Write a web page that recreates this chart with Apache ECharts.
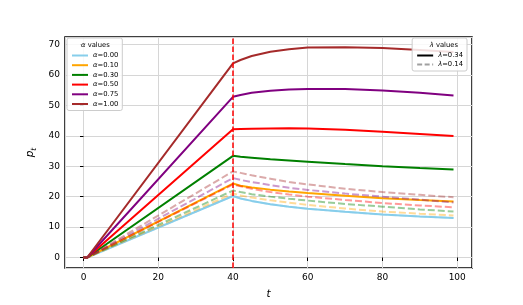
<!DOCTYPE html>
<html><head><meta charset="utf-8">
<script src="https://cdn.jsdelivr.net/npm/echarts@6/dist/echarts.min.js"></script>
<style>html,body{margin:0;padding:0;background:#fff}#c{width:523px;height:305px}</style>
</head><body><div id="c"></div>
<script>
const T = [0, 1, 40, 42, 45, 50, 55, 60, 70, 80, 90, 99];
const alphaLabels = ['0.00', '0.10', '0.30', '0.50', '0.75', '1.00'];
const lambdaLabels = ['0.34', '0.14'];
const colors = ['#87ceeb', '#ffa500', '#008000', '#ff0000', '#800080', '#a52a2a'];
// lambda = 0.34 (solid)
const solid_a000 = [0, 0, 20.2, 19.4, 18.6, 17.5, 16.7, 16.0, 15.0, 14.1, 13.5, 13.0];
const solid_a010 = [0, 0, 24.3, 23.6, 23.0, 22.3, 21.7, 21.2, 20.3, 19.5, 18.9, 18.4];
const solid_a030 = [0, 0, 33.4, 33.1, 32.8, 32.3, 31.9, 31.5, 30.7, 30.0, 29.4, 28.9];
const solid_a050 = [0, 0, 42.1, 42.2, 42.3, 42.4, 42.5, 42.4, 42.0, 41.3, 40.6, 39.9];
const solid_a075 = [0, 0, 52.8, 53.4, 54.1, 54.8, 55.2, 55.4, 55.4, 54.9, 54.1, 53.2];
const solid_a100 = [0, 0, 63.8, 64.9, 66.2, 67.6, 68.4, 69.0, 69.1, 68.8, 68.2, 67.5];
// lambda = 0.14 (dashed)
const dash_a000 = [0, 0, 20.2, 19.4, 18.6, 17.5, 16.7, 16.0, 15.0, 14.1, 13.5, 13.0];
const dash_a010 = [0, 0, 21.0, 20.4, 19.7, 18.8, 18.0, 17.3, 16.1, 15.1, 14.4, 13.8];
const dash_a030 = [0, 0, 22.0, 21.5, 20.8, 20.0, 19.3, 18.7, 17.6, 16.7, 15.8, 15.1];
const dash_a050 = [0, 0, 24.0, 23.4, 22.6, 21.5, 20.7, 20.0, 18.9, 17.9, 17.1, 16.5];
const dash_a075 = [0, 0, 26.1, 25.5, 24.8, 23.8, 22.9, 22.2, 21.0, 20.0, 19.0, 18.1];
const dash_a100 = [0, 0, 28.3, 27.8, 27.0, 25.9, 24.8, 24.0, 22.6, 21.5, 20.6, 19.8];
const cutoffT = 40;
const xMin = -4.95, xMax = 103.95, yMin = -3.45, yMax = 72.45;

const solids = [solid_a000, solid_a010, solid_a030, solid_a050, solid_a075, solid_a100];
const dashes = [dash_a000, dash_a010, dash_a030, dash_a050, dash_a075, dash_a100];
const pair = (arr) => T.map((t, i) => [t, arr[i]]);

const series = [];
solids.forEach((arr, i) => {
  series.push({
    name: 'α=' + alphaLabels[i], type: 'line', data: pair(arr), showSymbol: false, symbol: 'none',
    lineStyle: { color: colors[i], width: 2 }, itemStyle: { color: colors[i] }, z: 2, animation: false
  });
});
dashes.forEach((arr, i) => {
  series.push({
    name: 'd' + i, type: 'line', data: pair(arr), showSymbol: false, symbol: 'none',
    lineStyle: { color: colors[i], width: 2, opacity: 0.4, type: [7, 3] }, itemStyle: { color: colors[i] }, z: 3, animation: false
  });
});
series.push({ name: 'λ=' + lambdaLabels[0], type: 'line', data: [], symbol: 'none',
  lineStyle: { color: '#000', width: 1.5 }, itemStyle: { color: '#000' } });
series.push({ name: 'λ=' + lambdaLabels[1], type: 'line', data: [], symbol: 'none',
  lineStyle: { color: '#808080', width: 1.5, opacity: 0.75, type: [5, 2.5] }, itemStyle: { color: '#808080' } });
// vertical cutoff marker at t = 40 spanning the whole y range
series.push({ name: 'cutoff', type: 'line', data: [[cutoffT, yMin], [cutoffT, yMax]], showSymbol: false, symbol: 'none',
  color: '#ff0000', lineStyle: { color: '#ff0000', width: 1.5, type: [5.5, 2.5] }, itemStyle: { color: '#ff0000' }, z: 4, animation: false, silent: true });

const font = 'DejaVu Sans';
const legendRich = { a: { fontStyle: 'italic', fontSize: 6.8, fontFamily: font, color: '#000' }, b: { fontSize: 6.8, fontFamily: font, color: '#000' } };
const legendFmt = (n) => '{a|' + n.charAt(0) + '}{b|' + n.slice(1) + '}';

const chart = echarts.init(document.getElementById('c'), null, { renderer: 'canvas' });
chart.setOption({
  animation: false,
  backgroundColor: '#fff',
  grid: { left: 65, right: 51, top: 37, bottom: 34, show: true, borderColor: '#000', borderWidth: 1.5, backgroundColor: 'transparent' },
  xAxis: {
    type: 'value', min: xMin, max: xMax, splitNumber: 5,
    name: 't', nameLocation: 'middle', nameGap: 21,
    nameTextStyle: { fontFamily: font, fontSize: 10.5, fontStyle: 'italic', color: '#000' },
    axisLine: { show: false }, axisTick: { show: true, length: 3.5, lineStyle: { color: '#000' } },
    axisLabel: { fontFamily: font, fontSize: 9, color: '#000', margin: 5, showMinLabel: false, showMaxLabel: false },
    splitLine: { show: true, lineStyle: { color: '#d6d6d6', width: 1 } }
  },
  yAxis: {
    type: 'value', min: yMin, max: yMax, splitNumber: 8,
    name: '{p|p}{s|t}', nameLocation: 'middle', nameGap: 22, nameRotate: 90,
    nameTextStyle: { rich: { p: { fontFamily: font, fontSize: 10.5, fontStyle: 'italic', color: '#000' }, s: { fontFamily: font, fontSize: 7.5, fontStyle: 'italic', color: '#000', padding: [6, 0, 0, 0] } } },
    axisLine: { show: false }, axisTick: { show: true, length: 3.5, lineStyle: { color: '#000' } },
    axisLabel: { fontFamily: font, fontSize: 9, color: '#000', margin: 5, showMinLabel: false, showMaxLabel: false },
    splitLine: { show: true, lineStyle: { color: '#d6d6d6', width: 1 } }
  },
  legend: [
    { data: alphaLabels.map(a => 'α=' + a), orient: 'vertical', left: 67, top: 38,
      padding: [14, 4, 3, 4], itemWidth: 16, itemHeight: 6, itemGap: 2.7,
      itemStyle: { opacity: 0 }, lineStyle: { width: 2 },
      borderColor: '#cccccc', borderWidth: 1, borderRadius: 2, backgroundColor: 'rgba(255,255,255,0.85)',
      formatter: legendFmt, textStyle: { rich: legendRich }, selectedMode: false },
    { data: lambdaLabels.map(l => 'λ=' + l), orient: 'vertical', right: 56, top: 38,
      padding: [14, 4, 3, 4], itemWidth: 16, itemHeight: 6, itemGap: 2,
      itemStyle: { opacity: 0 },
      borderColor: '#cccccc', borderWidth: 1, borderRadius: 2, backgroundColor: 'rgba(255,255,255,0.85)',
      formatter: legendFmt, textStyle: { rich: legendRich }, selectedMode: false }
  ],
  graphic: [
    { type: 'text', left: 81, top: 42, z: 100, style: { text: '{a|α}{b| values}', rich: legendRich } },
    { type: 'text', right: 65, top: 42, z: 100, style: { text: '{a|λ}{b| values}', rich: legendRich } }
  ],
  series: series
});
</script></body></html>
